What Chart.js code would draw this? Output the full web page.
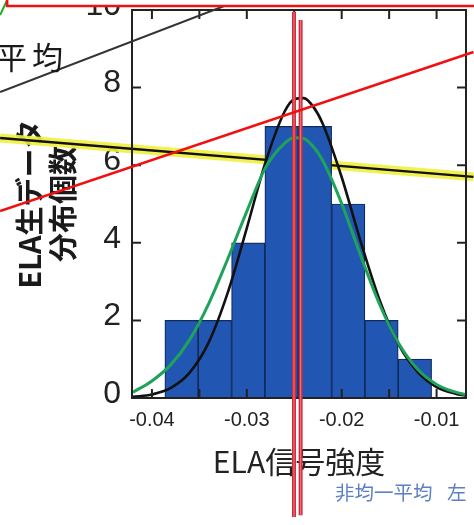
<!DOCTYPE html>
<html>
<head>
<meta charset="utf-8">
<script src="https://cdn.jsdelivr.net/npm/chart.js@4.4.1/dist/chart.umd.min.js"></script>
<style>
  html, body { margin: 0; padding: 0; background: #fff; }
  canvas { display: block; }
</style>
</head>
<body>
<canvas id="c" width="474" height="525"></canvas>
<script>
// Histogram of ELA signal strength: bin centres and counts
const binCenters = [-0.03688, -0.03336, -0.02985, -0.02634, -0.02282, -0.01931, -0.01580, -0.01228];
const binCounts  = [2, 2, 4, 7, 7, 5, 2, 1];

// Fitted distribution curves, sampled along the signal axis
const curveX   = [-0.042, -0.040, -0.038, -0.036, -0.034, -0.032, -0.030, -0.028, -0.026, -0.025, -0.024,
                  -0.023, -0.022, -0.020, -0.018, -0.016, -0.014, -0.012, -0.010, -0.008, -0.007];
const fitBlack = [0.03, 0.09, 0.26, 0.66, 1.44, 2.72, 4.38, 6.10, 7.39, 7.70, 7.73,
                  7.51, 7.07, 5.69, 4.03, 2.52, 1.38, 0.67, 0.28, 0.11, 0.06];
const fitGreen = [0.15, 0.44, 0.86, 1.51, 2.44, 3.59, 4.81, 5.95, 6.57, 6.71, 6.69,
                  6.48, 6.12, 5.01, 3.67, 2.41, 1.41, 0.74, 0.35, 0.15, 0.09];

// Mean markers (signal value, top and bottom extent in count units)
const meanValues  = [-0.02503, -0.02433];
const meanTops    = [9.95, 9.74];
const meanBottoms = [-3.07, -3.02];

// Axis ticks and labels
const yTickValues = [0, 2, 4, 6, 8, 10];
const yTickLabels = ['0', '2', '4', '6', '8', '10'];
const xLabelValues = [-0.04, -0.03, -0.02, -0.01];
const xTickLabels  = ['-0.04', '-0.03', '-0.02', '-0.01'];
const xTickMarks   = [-0.04, -0.035, -0.03, -0.025, -0.02, -0.015, -0.01];
const yTitle = ['ELA生データ', '分布個数'];
const xTitle = 'ELA信号強度';
const sideLabel = ['平', '均'];
const noteWords = ['非均一平均', '左'];

// Marker strokes drawn over the figure, in data units [signal, count]
const strokeGray   = [[-0.0560, 7.887], [-0.03074, 10.258]];
const strokeRed    = [[-0.0560, 4.82], [-0.00611, 8.918]];
const strokeYellow = [[-0.0560, 6.70], [-0.00611, 5.70]];
const strokeGreen  = [[-0.0560, 9.871], [-0.05526, 10.258]];
const boxCorner    = [-0.05526, 10.10];

const CJK = "'Noto Sans CJK JP', 'Noto Sans', sans-serif";
const LAT = "'Liberation Sans', Arial, sans-serif";

function seg(ctx, xs, ys, p, color, width) {
  ctx.beginPath();
  ctx.moveTo(xs.getPixelForValue(p[0][0]), ys.getPixelForValue(p[0][1]));
  ctx.lineTo(xs.getPixelForValue(p[1][0]), ys.getPixelForValue(p[1][1]));
  ctx.strokeStyle = color;
  ctx.lineWidth = width;
  ctx.lineCap = 'butt';
  ctx.stroke();
}

const figurePlugin = {
  id: 'figure',
  beforeDraw(chart) {
    const ctx = chart.ctx;
    ctx.save();
    ctx.fillStyle = '#fff';
    ctx.fillRect(0, 0, chart.width, chart.height);
    ctx.restore();
  },
  beforeDatasetsDraw(chart) {
    const { ctx, scales: { x, y } } = chart;
    ctx.save();
    seg(ctx, x, y, strokeYellow, 'rgba(240,240,60,0.9)', 9);
    seg(ctx, x, y, strokeYellow, '#111', 2.4);
    ctx.restore();
  },
  afterDatasetsDraw(chart) {
    const { ctx, chartArea: a, scales: { x, y } } = chart;
    ctx.save();
    ctx.strokeStyle = '#222';
    ctx.lineWidth = 2;
    ctx.strokeRect(a.left, a.top, a.right - a.left, a.bottom - a.top);
    ctx.beginPath();
    const tl = 9;
    xTickMarks.forEach(v => {
      const px = x.getPixelForValue(v);
      ctx.moveTo(px, a.bottom); ctx.lineTo(px, a.bottom - tl);
      ctx.moveTo(px, a.top);    ctx.lineTo(px, a.top + tl);
    });
    yTickValues.forEach(v => {
      const py = y.getPixelForValue(v);
      ctx.moveTo(a.left, py);  ctx.lineTo(a.left + tl, py);
      ctx.moveTo(a.right, py); ctx.lineTo(a.right - tl, py);
    });
    ctx.stroke();
    ctx.restore();
  },
  afterDraw(chart) {
    const { ctx, chartArea: a, scales: { x, y } } = chart;
    ctx.save();
    // mean markers
    meanValues.forEach((v, i) => {
      const px = x.getPixelForValue(v);
      ctx.beginPath();
      ctx.moveTo(px, y.getPixelForValue(meanTops[i]));
      ctx.lineTo(px, y.getPixelForValue(meanBottoms[i]));
      ctx.strokeStyle = '#cf2a38';
      ctx.lineWidth = 4;
      ctx.stroke();
      ctx.strokeStyle = 'rgba(235,120,130,0.9)';
      ctx.lineWidth = 1.2;
      ctx.stroke();
    });
    // strokes
    seg(ctx, x, y, strokeGray, '#333', 2);
    seg(ctx, x, y, strokeRed, '#f01010', 2.5);
    seg(ctx, x, y, strokeGreen, '#22aa22', 2);
    // frame box edge
    const bx = x.getPixelForValue(boxCorner[0]);
    const by = y.getPixelForValue(boxCorner[1]);
    ctx.fillStyle = '#fff';
    ctx.fillRect(bx, 0, chart.width - bx, by);
    ctx.beginPath();
    ctx.moveTo(bx, 0); ctx.lineTo(bx, by); ctx.lineTo(chart.width, by);
    ctx.strokeStyle = '#f01010';
    ctx.lineWidth = 2.5;
    ctx.stroke();
    // side text
    ctx.fillStyle = '#1a1a1a';
    ctx.font = '31px ' + CJK;
    ctx.textAlign = 'right';
    ctx.textBaseline = 'middle';
    ctx.fillText(sideLabel[0], a.left - 105, a.top + 47);
    ctx.fillText(sideLabel[1], a.left - 69, a.top + 47);
    // note text
    ctx.fillStyle = '#5d80c4';
    ctx.font = '19.5px ' + CJK;
    ctx.textAlign = 'left';
    ctx.fillText(noteWords[0], a.left + 203, a.bottom + 95);
    ctx.fillText(noteWords[1], a.left + 315, a.bottom + 95);
    ctx.restore();
  }
};

new Chart(document.getElementById('c'), {
  type: 'bar',
  data: {
    datasets: [
      {
        type: 'line',
        data: curveX.map((v, i) => ({ x: v, y: fitGreen[i] })),
        borderColor: '#1fa35a', borderWidth: 3, pointRadius: 0,
        cubicInterpolationMode: 'monotone', order: 1
      },
      {
        type: 'line',
        data: curveX.map((v, i) => ({ x: v, y: fitBlack[i] })),
        borderColor: '#111', borderWidth: 2.6, pointRadius: 0,
        cubicInterpolationMode: 'monotone', order: 2
      },
      {
        type: 'bar',
        data: binCenters.map((v, i) => ({ x: v, y: binCounts[i] })),
        backgroundColor: '#2157b3', borderColor: '#102a5c', borderWidth: 1.2,
        barPercentage: 1, categoryPercentage: 1, order: 3
      }
    ]
  },
  options: {
    responsive: false,
    animation: false,
    devicePixelRatio: 1,
    layout: { padding: { top: 10, right: 8, left: 0, bottom: 0 } },
    plugins: { legend: { display: false }, tooltip: { enabled: false } },
    scales: {
      x: {
        type: 'linear', min: -0.0421, max: -0.0069, offset: false,
        grid: { display: false, drawTicks: false },
        border: { display: false },
        afterBuildTicks: s => { s.ticks = xLabelValues.map(v => ({ value: v })); },
        ticks: {
          autoSkip: false, maxRotation: 0, padding: 10, color: '#222',
          font: { family: LAT, size: 20 },
          callback: (v, i) => xTickLabels[i]
        },
        title: {
          display: true, text: xTitle, color: '#222',
          font: { family: CJK, size: 30 },
          padding: { top: 0, bottom: 45 }
        },
        afterFit: s => { s.height = 127; s.paddingLeft = 0; s.paddingRight = 0; }
      },
      y: {
        type: 'linear', min: 0, max: 10,
        grid: { display: false, drawTicks: false },
        border: { display: false },
        afterBuildTicks: s => { s.ticks = yTickValues.map(v => ({ value: v })); },
        ticks: {
          padding: 11, labelOffset: -4, color: '#222',
          font: { family: LAT, size: 32 },
          callback: (v, i) => yTickLabels[i]
        },
        title: {
          display: true, text: yTitle, color: '#1a1a1a',
          font: { family: CJK, size: 29, weight: 'bold', lineHeight: 1.14 },
          padding: { top: 13, bottom: 0 }
        },
        afterFit: s => { s.width = 132; s.paddingTop = 0; s.paddingBottom = 0; }
      }
    }
  },
  plugins: [figurePlugin]
});
</script>
</body>
</html>
